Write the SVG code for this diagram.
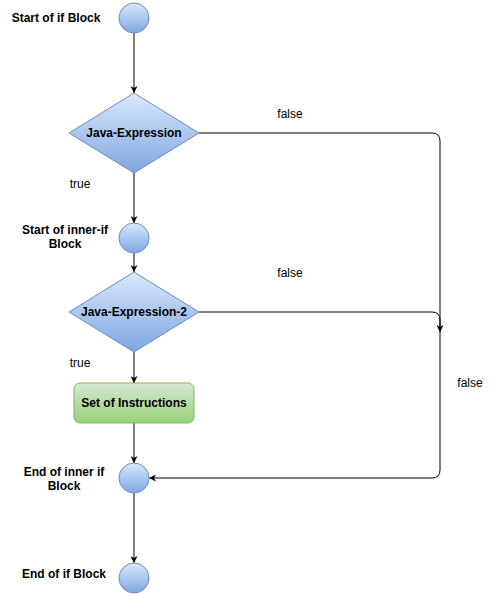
<svg xmlns="http://www.w3.org/2000/svg" width="491" height="594" viewBox="0 0 491 594">
<style>
.lbl{font-family:"Liberation Sans",Arial,sans-serif;font-size:12px;font-weight:bold;fill:#000;text-anchor:middle}
.elbl{font-family:"Liberation Sans",Arial,sans-serif;font-size:12px;fill:#000;text-anchor:middle}
.blue{fill:url(#gb);stroke:#6c8ebf;stroke-width:1}
.green{fill:url(#gg);stroke:#82b366;stroke-width:1}
.edge{fill:none;stroke:#000;stroke-width:1;marker-end:url(#arr)}
</style>
<defs>
<linearGradient id="gb" x1="0" y1="0" x2="0" y2="1"><stop offset="0" stop-color="#dae8fc"/><stop offset="1" stop-color="#7ea6e0"/></linearGradient>
<linearGradient id="gg" x1="0" y1="0" x2="0" y2="1"><stop offset="0" stop-color="#d5e8d4"/><stop offset="1" stop-color="#97d077"/></linearGradient>
<marker id="arr" viewBox="0 0 10 10" refX="10" refY="5" markerWidth="7" markerHeight="7" markerUnits="userSpaceOnUse" orient="auto"><path d="M0,0 L10,5 L0,10 L3,5 Z" fill="#000"/></marker>
</defs>
<g id="connectors">
<path class="edge" d="M134,33 V93"/>
<path class="edge" d="M134,173 V223"/>
<path class="edge" d="M134,253 V272"/>
<path class="edge" d="M134,352 V383"/>
<path class="edge" d="M134,423 V463"/>
<path class="edge" d="M134,493 V563"/>
<path class="edge" d="M199,133 H432 Q440,133 440,141 V470 Q440,478 432,478 H149"/>
<path class="edge" d="M199,312 H432 Q440,312 440,320 V332"/>
<text class="elbl" x="290" y="118">false</text>
<text class="elbl" x="290" y="277">false</text>
<text class="elbl" x="470" y="387">false</text>
<text class="elbl" x="80" y="188">true</text>
<text class="elbl" x="80" y="367">true</text>
</g>
<g id="start">
<circle class="blue" cx="134" cy="18" r="15"/>
<text class="lbl" x="56" y="22">Start of if Block</text>
</g>
<g id="expr1">
<polygon class="blue" points="134,93 199,133 134,173 69,133"/>
<text class="lbl" x="134" y="137">Java-Expression</text>
</g>
<g id="innerStart">
<circle class="blue" cx="134" cy="238" r="15"/>
<text class="lbl" x="65" y="234">Start of inner-if</text>
<text class="lbl" x="65" y="248">Block</text>
</g>
<g id="expr2">
<polygon class="blue" points="134,272 199,312 134,352 69,312"/>
<text class="lbl" x="134" y="316">Java-Expression-2</text>
</g>
<g id="instructions">
<rect class="green" x="74" y="383" width="120" height="40" rx="6" ry="6"/>
<text class="lbl" x="134" y="407">Set of Instructions</text>
</g>
<g id="innerEnd">
<circle class="blue" cx="134" cy="478" r="15"/>
<text class="lbl" x="64" y="476">End of inner if</text>
<text class="lbl" x="64" y="490">Block</text>
</g>
<g id="end">
<circle class="blue" cx="134" cy="578" r="15"/>
<text class="lbl" x="64" y="578">End of if Block</text>
</g>
</svg>
